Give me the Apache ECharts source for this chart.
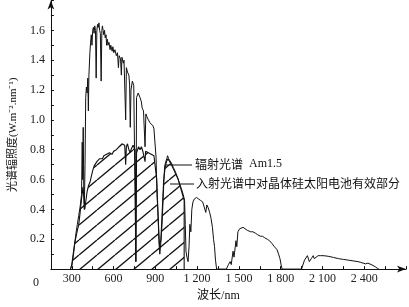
<!DOCTYPE html>
<html>
<head>
<meta charset="utf-8">
<script src="https://cdn.jsdelivr.net/npm/echarts@6/dist/echarts.min.js"></script>
<style>html,body{margin:0;padding:0;background:#fff;}#c{width:409px;height:307px;}</style>
</head>
<body>
<div id="c"></div>
<script>
// ---- data ----
var upperWavelengths = [290,300,310,320,330,340,350,360,370,375,378,382,386,390,395,400,405,410,415,419,423,430,435,440,445,450,455,460,465,470,475,480,485,490,495,500,505,511,516,520,525,530,535,540,546,550,556,560,567,575,580,590,595,602,610,620,628,635,640,650,656,660,670,675,687,692,700,710,715,720,725,735,745,755,760,765,777,790,800,805,815,826,832,840,850,862,872,883,890,897,905,912,920,925,932,940,948,955,962,967,975,982,988,995,1005,1016,1030,1045,1060,1075,1090,1100,1110,1115,1120,1127,1135,1142,1148,1155,1162,1170,1180,1195,1210,1225,1240,1250,1262,1270,1280,1290,1300,1310,1318,1325,1332,1340,1410,1425,1437,1445,1458,1465,1472,1479,1485,1493,1505,1515,1530,1543,1560,1570,1585,1600,1620,1635,1640,1655,1670,1685,1704,1720,1739,1755,1774,1785,1795,1805,1810,1950,1971,1992,2006,2020,2034,2041,2055,2069,2085,2104,2125,2146,2180,2216,2250,2286,2320,2356,2375,2385,2392,2400,2410,2427,2440,2462,2480,2495,2505];
var upperValues = [0,0.02,0.08,0.16,0.24,0.3,0.36,0.42,0.5,0.85,0.6,0.95,0.55,0.4,0.7,1.15,1.22,1.18,1.28,1.06,1.3,1.45,1.52,1.57,1.5,1.6,1.62,1.58,1.63,1.6,1.28,1.6,1.64,1.62,1.65,1.6,1.58,1.26,1.6,1.63,1.6,1.57,1.6,1.55,1.57,1.5,1.54,1.5,1.52,1.47,1.5,1.46,1.49,1.45,1.47,1.43,1.45,1.35,1.43,1.41,1.3,1.42,1.38,1.4,1.0,1.35,1.32,1.3,1.24,0.95,1.2,1.26,1.23,1.22,0.05,1.15,1.18,1.15,1.12,1.08,1.06,0.82,1.04,1.02,1.0,0.98,0.97,0.96,0.94,0.93,0.75,0.5,0.35,0.2,0.1,0.18,0.3,0.45,0.6,0.69,0.72,0.74,0.76,0.74,0.73,0.71,0.68,0.65,0.61,0.57,0.53,0.5,0.46,0.3,0.12,0.08,0.05,0.15,0.3,0.25,0.4,0.45,0.47,0.48,0.47,0.46,0.45,0.44,0.38,0.43,0.41,0.38,0.34,0.28,0.2,0.15,0.06,0,0,0.03,0.05,0.03,0.12,0.08,0.07,0.19,0.15,0.25,0.27,0.28,0.28,0.28,0.26,0.27,0.25,0.25,0.24,0.23,0.24,0.22,0.22,0.21,0.2,0.19,0.17,0.15,0.13,0.1,0.07,0.02,0,0,0.06,0.09,0.05,0.07,0.09,0.07,0.08,0.09,0.09,0.09,0.088,0.085,0.078,0.07,0.065,0.06,0.055,0.05,0.045,0.055,0.04,0.05,0.035,0.04,0.03,0.025,0.015,0.005,0];

var lowerWavelengths = [290,300,320,340,350,360,370,380,385,393,400,410,420,430,440,450,460,470,480,490,500,510,520,530,540,550,560,570,580,590,600,610,620,630,640,650,660,670,680,687,692,700,710,720,725,740,755,760,765,780,790,800,810,820,826,830,840,850,860,870,880,890,900,910,920,930,940,950,960,970,980,990,1000,1010,1020,1035,1050,1065,1080,1095,1107,1107];
var lowerValues = [0,0.03,0.17,0.26,0.3,0.38,0.47,0.55,0.5,0.4,0.45,0.52,0.56,0.58,0.62,0.66,0.69,0.7,0.72,0.71,0.74,0.73,0.74,0.76,0.75,0.77,0.76,0.78,0.78,0.77,0.79,0.8,0.8,0.79,0.82,0.81,0.84,0.83,0.83,0.7,0.82,0.84,0.8,0.78,0.8,0.83,0.8,0.05,0.78,0.82,0.8,0.82,0.79,0.8,0.72,0.79,0.8,0.78,0.79,0.77,0.77,0.76,0.75,0.6,0.35,0.15,0.2,0.4,0.6,0.68,0.72,0.74,0.73,0.71,0.69,0.66,0.63,0.6,0.55,0.5,0.46,0];

var xTickValues = [300,600,900,1200,1500,1800,2100,2400];
var xTickLabels = ['300','600','900','1 200','1 500','1 800','2 100','2 400'];
var yTickValues = [0.2,0.4,0.6,0.8,1.0,1.2,1.4,1.6];
var yTickLabels = ['0.2','0.4','0.6','0.8','1.0','1.2','1.4','1.6'];

var xName = '波长/nm';
var yName = '光谱辐照度(W.m⁻².nm⁻¹)';
var label1 = '辐射光谱';
var label1b = 'Am1.5';
var label2 = '入射光谱中对晶体硅太阳电池有效部分';

// ---- build ----
function pairs(xs, ys){ var o=[]; for (var i=0;i<xs.length;i++) o.push([xs[i], ys[i]]); return o; }

var W = 18, H = 15;
var pc = document.createElement('canvas');
pc.width = W; pc.height = H;
var g = pc.getContext('2d');
g.strokeStyle = '#111';
g.lineWidth = 1.3;
for (var k=-2;k<=1;k++){
  g.beginPath();
  g.moveTo(k*W+7, H);
  g.lineTo(k*W+7+W, 0);
  g.stroke();
}

var serif = "'Liberation Serif','Noto Sans CJK SC',serif";
var chart = echarts.init(document.getElementById('c'), null, {renderer:'canvas'});
chart.setOption({
  animation: false,
  backgroundColor: '#fff',
  grid: {left: 43.6, right: 2.3, top: 0.5, bottom: 31},
  xAxis: {
    type: 'value', min: 150, max: 2700, interval: 150,
    name: xName, nameLocation: 'middle', nameGap: 15,
    nameTextStyle: {fontFamily: serif, fontSize: 12, color: '#111', padding: [0,20,0,0]},
    axisLine: {show: true, lineStyle: {color: '#111', width: 1}, symbol: ['none','arrow'], symbolSize: [5,9]},
    axisTick: {show: true, inside: true, length: 3, lineStyle: {color: '#111'}},
    splitLine: {show: false},
    axisLabel: {fontFamily: serif, fontSize: 12, color: '#222', margin: 4, showMaxLabel: true, showMinLabel: true,
      formatter: function(v){ var i = xTickValues.indexOf(Math.round(v)); return i>=0 ? xTickLabels[i] : ''; }}
  },
  yAxis: {
    type: 'value', min: 0, max: 1.8, interval: 0.1,
    name: yName, nameLocation: 'middle', nameGap: 28, nameRotate: 90,
    nameTextStyle: {fontFamily: serif, fontSize: 11, color: '#111'},
    axisLine: {show: true, lineStyle: {color: '#111', width: 1}, symbol: ['none','arrow'], symbolSize: [5,9]},
    axisTick: {show: true, inside: true, length: 3, lineStyle: {color: '#111'}},
    splitLine: {show: false},
    axisLabel: {fontFamily: serif, fontSize: 12, color: '#222', margin: 6,
      formatter: function(v){
        for (var i=0;i<yTickValues.length;i++) if (Math.abs(yTickValues[i]-v) < 1e-6) return yTickLabels[i];
        return '';
      }}
  },
  series: [
    {
      type: 'line', data: pairs(lowerWavelengths, lowerValues), symbol: 'none', silent: true,
      lineStyle: {color: '#111', width: 1.1},
      areaStyle: {color: {image: pc, repeat: 'repeat'}, opacity: 1, origin: 'start'},
      z: 2
    },
    {
      type: 'line', data: pairs(upperWavelengths, upperValues), symbol: 'none', silent: true,
      lineStyle: {color: '#111', width: 1},
      z: 3
    }
  ],
  graphic: [
    {type: 'text', left: 33, top: 277, style: {text: '0', font: '12px ' + serif, fill: '#222'}},
    {type: 'line', shape: {x1: 166, y1: 165, x2: 192, y2: 165}, style: {stroke: '#111', lineWidth: 1}},
    {type: 'text', left: 195, top: 158, style: {text: '{a|' + label1 + '}{b|  ' + label1b + '}',
      rich: {a: {fontFamily: "'Noto Sans CJK SC'", fontSize: 12, fill: '#111'}, b: {fontFamily: serif, fontSize: 12, fill: '#111'}}}},
    {type: 'line', shape: {x1: 170, y1: 184, x2: 194, y2: 184}, style: {stroke: '#111', lineWidth: 1}},
    {type: 'text', left: 196, top: 177, style: {text: label2, font: '12px "Noto Sans CJK SC"', fill: '#111'}}
  ]
});
</script>
</body>
</html>
